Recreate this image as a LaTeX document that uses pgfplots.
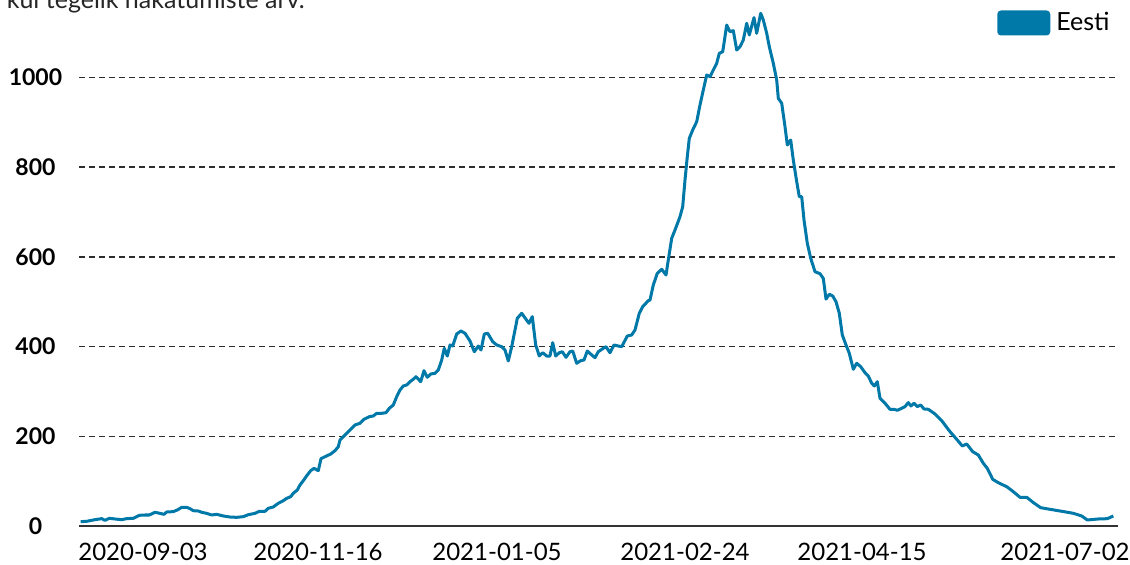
\documentclass[border=0pt]{standalone}
\usepackage{fontspec}
\setmainfont{Lato}
\usepackage{pgfplots}
\pgfplotsset{compat=1.18}
\definecolor{eesti}{RGB}{0,120,168}
\definecolor{gridc}{RGB}{45,45,45}
\begin{document}
\begin{tikzpicture}
\useasboundingbox (0pt,0pt) rectangle (565pt,282.5pt);
\node[anchor=base east, font=\fontsize{12.5}{14}\selectfont, text=black!85, inner sep=0pt] at (152.5pt,278pt) {kui tegelik nakatumiste arv.};
\begin{axis}[
  at={(39.5pt,19.5pt)}, anchor=south west,
  scale only axis, width=519.5pt, height=263pt,
  xmin=79, xmax=1118, ymin=0, ymax=1172.8,
  axis x line*=bottom, axis y line*=left,
  y axis line style={draw=none},
  x axis line style={-, draw=black!80, line width=1pt},
  major tick length=0pt,
  xtick={143,318,497,685,862,1065},
  xticklabels={2020-09-03,2020-11-16,2021-01-05,2021-02-24,2021-04-15,2021-07-02},
  xticklabel style={anchor=center, yshift=-13pt, font=\fontsize{12}{14}\selectfont},
  ytick={0,200,400,600,800,1000},
  yticklabel style={anchor=center, xshift=-21.75pt, font=\fontsize{11.5}{13}\selectfont\bfseries},
  /pgf/number format/assume math mode=true,
  /pgf/number format/1000 sep={},
  ymajorgrids, grid style={gridc, line width=0.7pt, dash pattern=on 3pt off 2pt},
  legend style={at={(axis description cs:0.998,0.9563)}, anchor=east, draw=none, fill=none, inner sep=0pt,
    font=\fontsize{12.5}{14}\selectfont, nodes={inner xsep=3pt, inner ysep=0pt}},
  legend image code/.code={\fill[eesti, rounded corners=1.2pt] (0pt,-5.5pt) rectangle (25pt,5.5pt);},
]
\addplot[eesti, line width=1.5pt, line join=round, mark=none] coordinates {
(80.7,9.6) (86.7,10.4) (93.3,13.4) (101.7,16.4) (105,12.6) (109.3,17.1) (115,15.6) (121.7,14.1)
(126.7,16.4) (133.3,17.1) (139.3,23.8) (145,24.5) (149.3,24.5) (155,30.5) (160,28.2) (164,26)
(166.7,31.2) (173.3,32) (177.3,35.7) (181.7,41.6) (186.7,41.6) (190,38.6) (193.3,34.1) (198.3,33.4)
(201.7,30.5) (206.7,28.2) (211.7,24.5) (216.7,26) (223.3,22.3) (230,20) (236.7,19.3) (243.3,20.8)
(248.3,25.2) (255,28.2) (259.3,32.7) (265,32.7) (268.3,39.4) (273.3,42.4) (278.3,50.6) (282.7,55.7)
(286.7,61.7) (290.7,65.4) (293.3,72.9) (297.3,80.3) (300,91.4) (303.3,101) (307.3,113.7) (310.7,123.4)
(314,128.5) (318.3,123.4) (321,150.1) (325,154.5) (330.7,160.5) (335,167.9) (338.3,176.8)
(340,191.7) (345,202.9) (350,214) (355,225.2) (360,229) (364,237.9) (369.3,243.7) (373.3,245.3)
(376.7,251.3) (381.7,251.3) (386,252.6) (389.3,262.4) (393.3,269.8) (396.7,288.3) (400,303.2)
(403.3,312.2) (406.7,314.4) (410,321.7) (413.3,327.1) (416,332.9) (420.7,321.7) (424,346.3)
(427.3,331.5) (430.7,338.9) (435,340.4) (438.3,347.8) (441.7,370.1) (444.3,396.2) (447.3,379)
(450,403.6) (452.7,401.3) (456.7,428.1) (461,434.8) (465,429.6) (470,412.5) (474.3,388.6)
(478.3,401.3) (481,392.4) (484.3,428.1) (487.7,429.6) (492.7,411) (496.7,403.6) (501.7,399.8)
(505,392.4) (508.3,367.9) (511.7,399.8) (515,437) (517.3,463.1) (521.7,474.3) (526,460.9)
(529,451.9) (532.3,466.7) (535.7,403.6) (539.3,379) (542.7,386.4) (546.7,379) (550,379)
(552.7,408.7) (555.7,379) (559.3,386.4) (562.3,388.6) (566,376.1) (570,388.6) (572.7,390.2)
(576.7,362.8) (580.7,368.6) (584,370.1) (587.3,390.2) (591.7,381.3) (595,375.3) (598.3,388.6)
(603.3,396.2) (606,399.8) (610,386.4) (614,403.6) (618.3,401.3) (621.7,399.8) (627.3,423.6)
(631.7,425.9) (635,437) (639.3,474.3) (642.7,489.1) (648.3,502.3) (650,503.9) (653.3,537.3)
(657.3,563.4) (661.7,572.4) (666,559.6) (668.3,593.1) (671.7,641.5) (675,660) (680,689.6)
(682.7,711.9) (685,771.5) (687.3,823.4) (689.3,864.4) (692.7,883) (696.7,901.5) (700,938.7)
(703.3,972.1) (706.7,1005.6) (710,1001.8) (713.3,1016.7) (716.7,1031.6) (719.3,1053.9)
(722.7,1057.5) (724,1076.3) (726.7,1117) (730,1102.1) (733.3,1104.4) (736.7,1061.3) (740,1068.7)
(743.3,1083.6) (746.7,1120.8) (749.3,1094.8) (754,1133.5) (756.7,1098.5) (760.7,1143.1)
(763.3,1128.2) (766.7,1098.5) (769.3,1068.7) (773.3,1031.6) (776.7,994.4) (778.3,953.6)
(781.7,942.5) (785,890.3) (787.3,849.5) (790.7,860.6) (793.3,816) (796.7,767.7) (799.3,734.2)
(801.7,734.2) (804,682.3) (807.3,630.3) (810.7,596.9) (815,567) (820,562.5) (823.3,552)
(826,506) (829.3,516.6) (832.7,512.8) (836,500.1) (839.3,474.3) (842.3,425.9) (846,403.6)
(849.3,385) (853.3,349.4) (856.7,362.8) (860.7,355.2) (865,341.8) (868.3,334.4) (871.7,318.2)
(874.3,312.2) (877.3,321.7) (880,284.7) (885,273.6) (890,260.2) (894,260.2) (897.3,257.9)
(901.7,262.4) (905,266.1) (908.3,275) (911,267.6) (914,273.6) (917.3,266.1) (920.7,269.8)
(924,260.9) (928.3,260.2) (935,249.7) (941.7,234.8) (950,210.3) (957.3,191.7) (962.3,178.4)
(966.7,182.8) (972.7,165.7) (978.3,158.3) (983.3,139.8) (987.3,128.6) (992.7,104.1) (998.3,96.5)
(1006.7,87.6) (1013.3,76.5) (1020,64) (1026.7,64) (1033.3,52.2) (1040.7,40.8) (1050,37.2)
(1061.7,32.8) (1073.3,28.3) (1081.7,22.3) (1087.3,13.4) (1098.3,15.6) (1107.3,16.3) (1113.3,22.3)
};
\addlegendentry{Eesti}
\end{axis}
\end{tikzpicture}
\end{document}
